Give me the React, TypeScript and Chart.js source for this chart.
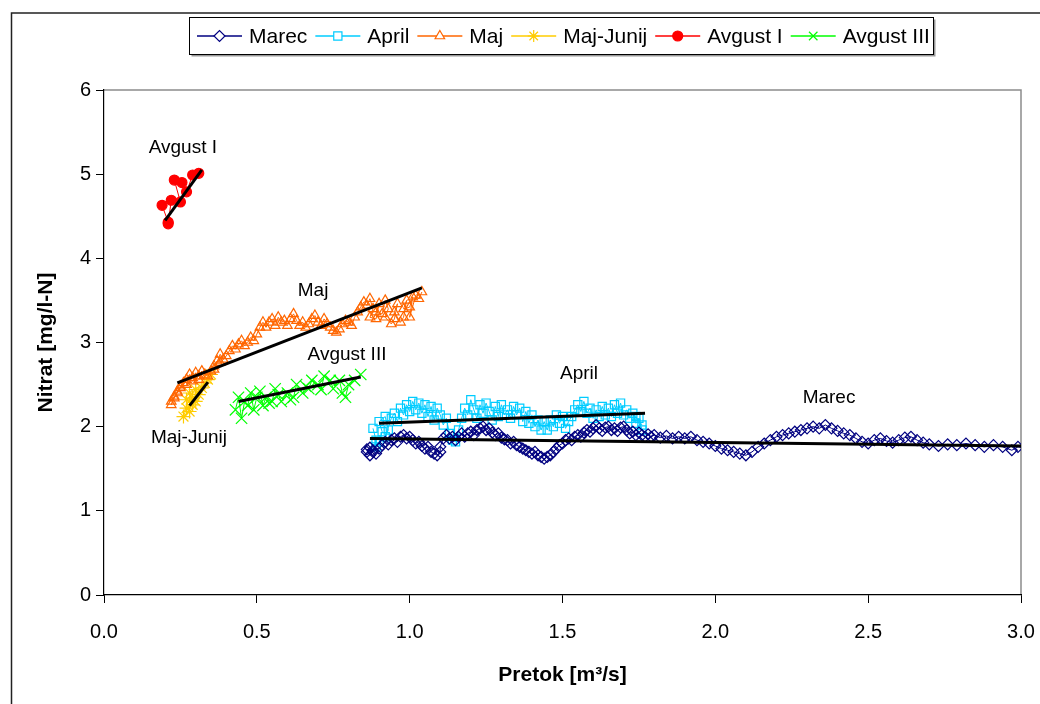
import React, { useEffect, useRef } from 'react';
import { Chart, registerables } from 'chart.js';
import { drawPoint } from 'chart.js/helpers';

Chart.register(...registerables);

const FONT = "'Liberation Sans', Arial, sans-serif";

// ---------------- DATA ----------------
const seriesNames = ['Marec', 'April', 'Maj', 'Maj-Junij', 'Avgust I', 'Avgust III'];

const marecX = [0.86, 0.87, 0.86, 0.88, 0.87, 0.89, 0.88, 0.90, 0.91, 0.92,
  0.93, 0.94, 0.95, 0.96, 0.97, 0.98, 0.99, 1.00, 1.01, 1.02,
  1.03, 1.04, 1.05, 1.06, 1.07, 1.08, 1.09, 1.10, 1.10, 1.11,
  1.12, 1.13, 1.14, 1.15, 1.16, 1.17, 1.18, 1.19, 1.20, 1.21,
  1.22, 1.23, 1.24, 1.25, 1.26, 1.27, 1.28, 1.29, 1.30, 1.31,
  1.32, 1.33, 1.34, 1.35, 1.36, 1.37, 1.38, 1.39, 1.40, 1.41,
  1.42, 1.43, 1.44, 1.45, 1.46, 1.47, 1.48, 1.49, 1.50, 1.51,
  1.52, 1.53, 1.54, 1.55, 1.56, 1.57, 1.58, 1.59, 1.60, 1.61,
  1.62, 1.63, 1.64, 1.65, 1.66, 1.67, 1.68, 1.69, 1.70, 1.71,
  1.72, 1.73, 1.74, 1.75, 1.76, 1.77, 1.78, 1.79, 1.80, 1.82,
  1.84, 1.86, 1.88, 1.90, 1.92, 1.94, 1.96, 1.98, 2.00, 2.02,
  2.04, 2.06, 2.08, 2.10, 2.12, 2.14, 2.16, 2.18, 2.20, 2.22,
  2.24, 2.26, 2.28, 2.30, 2.32, 2.34, 2.36, 2.38, 2.40, 2.42,
  2.44, 2.46, 2.48, 2.50, 2.52, 2.54, 2.56, 2.58, 2.60, 2.62,
  2.64, 2.66, 2.68, 2.70, 2.73, 2.76, 2.79, 2.82, 2.85, 2.88,
  2.91, 2.94, 2.97, 2.99, 3.02];
const marecY = [1.70, 1.66, 1.73, 1.70, 1.75, 1.68, 1.72, 1.74, 1.78, 1.82,
  1.79, 1.84, 1.86, 1.82, 1.88, 1.90, 1.86, 1.88, 1.84, 1.80,
  1.82, 1.77, 1.74, 1.76, 1.70, 1.68, 1.66, 1.70, 1.76, 1.86,
  1.90, 1.86, 1.88, 1.84, 1.88, 1.92, 1.88, 1.92, 1.94, 1.90,
  1.96, 1.98, 2.00, 1.96, 1.98, 1.93, 1.90, 1.92, 1.87, 1.85,
  1.84, 1.80, 1.82, 1.78, 1.76, 1.74, 1.72, 1.70, 1.68, 1.70,
  1.66, 1.64, 1.62, 1.64, 1.66, 1.70, 1.74, 1.78, 1.80, 1.84,
  1.86, 1.84, 1.88, 1.90, 1.88, 1.93, 1.96, 1.94, 1.98, 2.02,
  1.98, 1.95, 1.99, 2.00, 1.96, 1.98, 1.95, 1.99, 2.00, 1.96,
  1.92, 1.94, 1.90, 1.93, 1.90, 1.88, 1.91, 1.88, 1.90, 1.87,
  1.89, 1.86, 1.88, 1.86, 1.88, 1.84, 1.82, 1.80, 1.77, 1.74,
  1.72, 1.70, 1.68, 1.66, 1.70, 1.76, 1.80, 1.84, 1.88, 1.90,
  1.92, 1.94, 1.96, 1.98, 2.00, 1.98, 2.02, 1.98, 1.95, 1.92,
  1.90, 1.86, 1.82, 1.80, 1.84, 1.86, 1.83, 1.81, 1.84, 1.87,
  1.88, 1.84, 1.81, 1.79, 1.77, 1.79, 1.78, 1.80, 1.78, 1.76,
  1.78, 1.76, 1.72, 1.76, 1.74];

const aprilX = [0.88, 0.89, 0.89, 0.90, 0.91, 0.90, 0.92, 0.93, 0.92, 0.94,
  0.95, 0.96, 0.97, 0.98, 0.99, 1.00, 1.01, 1.02, 1.03, 1.04,
  1.05, 1.06, 1.07, 1.08, 1.09, 1.10, 1.11, 1.12, 1.13, 1.14,
  1.15, 1.16, 1.17, 1.18, 1.19, 1.20, 1.21, 1.22, 1.23, 1.24,
  1.25, 1.26, 1.27, 1.28, 1.29, 1.30, 1.31, 1.32, 1.33, 1.34,
  1.35, 1.36, 1.37, 1.38, 1.39, 1.40, 1.41, 1.42, 1.43, 1.44,
  1.45, 1.46, 1.47, 1.48, 1.49, 1.50, 1.51, 1.52, 1.53, 1.54,
  1.55, 1.56, 1.57, 1.58, 1.59, 1.60, 1.61, 1.62, 1.63, 1.64,
  1.65, 1.66, 1.67, 1.68, 1.69, 1.70, 1.71, 1.72, 1.73, 1.74,
  1.75, 1.76, 1.74, 1.76];
const aprilY = [1.98, 1.84, 1.76, 1.82, 1.94, 2.06, 2.12, 1.96, 1.88, 2.10,
  2.16, 2.06, 2.22, 2.14, 2.26, 2.18, 2.30, 2.20, 2.28, 2.16,
  2.26, 2.12, 2.24, 2.08, 2.22, 2.14, 2.02, 2.10, 1.92, 1.84,
  1.82, 1.96, 2.10, 2.22, 2.14, 2.32, 2.20, 2.10, 2.26, 2.16,
  2.28, 2.18, 2.08, 2.24, 2.12, 2.26, 2.14, 2.20, 2.10, 2.24,
  2.14, 2.22, 2.06, 2.18, 2.04, 2.14, 2.00, 2.08, 1.96, 2.06,
  1.96, 2.08, 2.00, 2.14, 2.04, 2.12, 1.98, 2.06, 2.12, 2.20,
  2.26, 2.18, 2.30, 2.16, 2.22, 2.10, 2.20, 2.12, 2.24, 2.14,
  2.22, 2.12, 2.26, 2.16, 2.28, 2.14, 2.20, 2.10, 2.16, 2.04,
  2.10, 1.96, 2.12, 2.02];

const majX = [0.22, 0.23, 0.22, 0.24, 0.23, 0.25, 0.24, 0.26, 0.25, 0.27,
  0.28, 0.27, 0.29, 0.30, 0.29, 0.31, 0.32, 0.31, 0.33, 0.34,
  0.35, 0.36, 0.37, 0.36, 0.38, 0.39, 0.38, 0.40, 0.41, 0.42,
  0.43, 0.44, 0.45, 0.46, 0.47, 0.48, 0.49, 0.50, 0.51, 0.52,
  0.53, 0.54, 0.55, 0.56, 0.57, 0.58, 0.59, 0.60, 0.61, 0.62,
  0.63, 0.64, 0.65, 0.66, 0.67, 0.68, 0.69, 0.70, 0.71, 0.72,
  0.73, 0.74, 0.75, 0.76, 0.77, 0.78, 0.79, 0.80, 0.81, 0.82,
  0.83, 0.84, 0.85, 0.86, 0.87, 0.88, 0.87, 0.89, 0.90, 0.89,
  0.91, 0.92, 0.93, 0.92, 0.94, 0.95, 0.96, 0.95, 0.97, 0.98,
  0.99, 0.98, 1.00, 1.01, 1.00, 1.02, 1.03, 1.04];
const majY = [2.30, 2.36, 2.26, 2.42, 2.34, 2.48, 2.40, 2.52, 2.46, 2.56,
  2.62, 2.50, 2.58, 2.64, 2.54, 2.60, 2.66, 2.56, 2.62, 2.60,
  2.66, 2.72, 2.78, 2.68, 2.86, 2.80, 2.76, 2.84, 2.90, 2.96,
  2.92, 2.98, 3.02, 2.96, 3.00, 3.06, 3.02, 3.10, 3.18, 3.24,
  3.18, 3.24, 3.28, 3.20, 3.30, 3.24, 3.26, 3.20, 3.28, 3.34,
  3.26, 3.20, 3.24, 3.18, 3.22, 3.28, 3.32, 3.24, 3.20, 3.28,
  3.22, 3.18, 3.14, 3.12, 3.16, 3.22, 3.26, 3.24, 3.20, 3.30,
  3.36, 3.42, 3.48, 3.44, 3.52, 3.40, 3.30, 3.28, 3.46, 3.36,
  3.34, 3.50, 3.40, 3.30, 3.22, 3.28, 3.46, 3.36, 3.24, 3.30,
  3.50, 3.40, 3.42, 3.54, 3.30, 3.56, 3.52, 3.60];

const majJunijX = [0.26, 0.27, 0.27, 0.28, 0.28, 0.29, 0.29, 0.30, 0.30, 0.31, 0.32, 0.33, 0.34, 0.35];
const majJunijY = [2.12, 2.22, 2.32, 2.18, 2.40, 2.26, 2.34, 2.30, 2.44, 2.38, 2.46, 2.52, 2.56, 2.62];

const avgust1X = [0.19, 0.21, 0.21, 0.22, 0.25, 0.23, 0.255, 0.27, 0.29, 0.31];
const avgust1Y = [4.63, 4.43, 4.41, 4.69, 4.67, 4.93, 4.90, 4.79, 4.99, 5.01];

const avgust3X = [0.43, 0.44, 0.45, 0.46, 0.47, 0.48, 0.49, 0.50, 0.51, 0.52,
  0.53, 0.54, 0.55, 0.56, 0.57, 0.58, 0.60, 0.61, 0.62, 0.63,
  0.65, 0.66, 0.67, 0.68, 0.70, 0.71, 0.72, 0.74, 0.75, 0.77,
  0.78, 0.79, 0.80, 0.82, 0.84];
const avgust3Y = [2.20, 2.35, 2.10, 2.30, 2.25, 2.40, 2.20, 2.35, 2.42, 2.25,
  2.35, 2.28, 2.30, 2.45, 2.38, 2.30, 2.40, 2.32, 2.35, 2.50,
  2.40, 2.48, 2.45, 2.55, 2.50, 2.44, 2.60, 2.55, 2.45, 2.55,
  2.40, 2.35, 2.50, 2.55, 2.62];

// linear trend lines (start, end)
const trendMarecX = [0.87, 3.0];
const trendMarecY = [1.86, 1.77];
const trendAprilX = [0.90, 1.77];
const trendAprilY = [2.04, 2.16];
const trendMajX = [0.24, 1.04];
const trendMajY = [2.52, 3.65];
const trendMajJunijX = [0.28, 0.34];
const trendMajJunijY = [2.25, 2.53];
const trendAvgust1X = [0.20, 0.32];
const trendAvgust1Y = [4.45, 5.05];
const trendAvgust3X = [0.44, 0.84];
const trendAvgust3Y = [2.30, 2.59];

// annotation labels (data coordinates)
const labelTexts = ['Avgust I', 'Maj', 'Avgust III', 'Maj-Junij', 'April', 'Marec'];
const labelX = [0.258, 0.684, 0.795, 0.278, 1.554, 2.372];
const labelY = [5.31, 3.61, 2.85, 1.87, 2.63, 2.34];

const xAxisTitle = 'Pretok [m³/s]';
const yAxisTitle = 'Nitrat [mg/l-N]';

// ---------------- STYLES ----------------
const styles = [
  { color: '#000080', pointStyle: 'rectRot', radius: 5.5, fill: 'rgba(0,0,0,0)' },
  { color: '#00CCFF', pointStyle: 'rect', radius: 5.8, fill: 'rgba(0,0,0,0)' },
  { color: '#FF6600', pointStyle: 'triangle', radius: 5.5, fill: 'rgba(0,0,0,0)' },
  { color: '#FFCC00', pointStyle: 'star', radius: 7, fill: 'rgba(0,0,0,0)' },
  { color: '#FF0000', pointStyle: 'circle', radius: 5, fill: '#FF0000' },
  { color: '#00FF00', pointStyle: 'crossRot', radius: 8, fill: 'rgba(0,0,0,0)' },
];

const toPts = (xs: number[], ys: number[]) => xs.map((x, i) => ({ x, y: ys[i] }));

const seriesData = [
  toPts(marecX, marecY),
  toPts(aprilX, aprilY),
  toPts(majX, majY),
  toPts(majJunijX, majJunijY),
  toPts(avgust1X, avgust1Y),
  toPts(avgust3X, avgust3Y),
];
const trendData = [
  toPts(trendMarecX, trendMarecY),
  toPts(trendAprilX, trendAprilY),
  toPts(trendMajX, trendMajY),
  toPts(trendMajJunijX, trendMajJunijY),
  toPts(trendAvgust1X, trendAvgust1Y),
  toPts(trendAvgust3X, trendAvgust3Y),
];

const framePlugin = {
  id: 'frame',
  beforeDraw(chart: any) {
    const ctx = chart.ctx;
    ctx.save();
    ctx.fillStyle = '#ffffff';
    ctx.fillRect(0, 0, chart.width, chart.height);
    ctx.strokeStyle = '#222';
    ctx.lineWidth = 1.5;
    ctx.strokeRect(11.5, 13, chart.width + 20, chart.height + 20);
    const a = chart.chartArea;
    ctx.strokeStyle = '#8c8c8c';
    ctx.lineWidth = 1.5;
    ctx.beginPath();
    ctx.moveTo(a.left, a.top);
    ctx.lineTo(a.right, a.top);
    ctx.lineTo(a.right, a.bottom);
    ctx.stroke();
    ctx.restore();
  },
  afterDatasetsDraw(chart: any) {
    const ctx = chart.ctx;
    const xs = chart.scales.x;
    const ys = chart.scales.y;
    ctx.save();
    ctx.fillStyle = '#000';
    ctx.font = `19px ${FONT}`;
    ctx.textAlign = 'center';
    ctx.textBaseline = 'middle';
    labelTexts.forEach((t, i) => {
      ctx.fillText(t, xs.getPixelForValue(labelX[i]), ys.getPixelForValue(labelY[i]));
    });
    ctx.restore();
  },
  afterDraw(chart: any) {
    const ctx = chart.ctx;
    ctx.save();
    // legend box
    const bx = 189.5, by = 17.5, bw = 744, bh = 37;
    ctx.fillStyle = '#fff';
    ctx.fillRect(bx, by, bw, bh);
    ctx.strokeStyle = '#999';
    ctx.lineWidth = 2;
    ctx.beginPath();
    ctx.moveTo(bx + 2, by + bh + 1);
    ctx.lineTo(bx + bw + 1, by + bh + 1);
    ctx.lineTo(bx + bw + 1, by + 2);
    ctx.stroke();
    ctx.strokeStyle = '#000';
    ctx.lineWidth = 1;
    ctx.strokeRect(bx, by, bw, bh);
    ctx.font = `21px ${FONT}`;
    ctx.textBaseline = 'middle';
    ctx.textAlign = 'left';
    let x = 197;
    const cy = by + bh / 2;
    seriesNames.forEach((name, i) => {
      const s = styles[i];
      ctx.strokeStyle = s.color;
      ctx.lineWidth = 1.5;
      ctx.beginPath();
      ctx.moveTo(x, cy);
      ctx.lineTo(x + 45, cy);
      ctx.stroke();
      ctx.fillStyle = s.fill === 'rgba(0,0,0,0)' ? '#fff' : s.fill;
      ctx.lineWidth = 1.2;
      drawPoint(ctx, { pointStyle: s.pointStyle, radius: Math.min(s.radius, 6), rotation: 0, borderWidth: 1.2 } as any, x + 22.5, cy);
      ctx.fillStyle = '#000';
      ctx.fillText(name, x + 52, cy + 1);
      x += 52 + ctx.measureText(name).width + 8;
    });
    ctx.restore();
  },
};

export default function App() {
  const ref = useRef<HTMLCanvasElement>(null);
  useEffect(() => {
    if (!ref.current) return;
    const datasets: any[] = [];
    trendData.forEach((d) => {
      datasets.push({
        label: 'trend',
        data: d,
        showLine: true,
        borderColor: '#000',
        borderWidth: 3,
        pointRadius: 0,
        order: -1,
      });
    });
    seriesData.forEach((d, i) => {
      const s = styles[i];
      datasets.push({
        label: seriesNames[i],
        data: d,
        showLine: true,
        borderColor: s.color,
        borderWidth: 1,
        pointStyle: s.pointStyle,
        pointRadius: s.radius,
        pointBorderColor: s.color,
        pointBackgroundColor: s.fill,
        pointBorderWidth: 1.2,
        order: i,
      });
    });
    const chart = new Chart(ref.current, {
      type: 'scatter',
      data: { datasets },
      options: {
        animation: false,
        responsive: false,
        maintainAspectRatio: false,
        events: [],
        layout: { padding: { left: 0, right: 19, top: 90, bottom: 0 } },
        plugins: { legend: { display: false }, tooltip: { enabled: false } },
        scales: {
          x: {
            type: 'linear',
            min: 0,
            max: 3,
            ticks: {
              stepSize: 0.5,
              color: '#000',
              font: { family: FONT, size: 20 },
              padding: 17,
              maxRotation: 0,
              callback: (v: any) => Number(v).toFixed(1),
            },
            grid: { drawOnChartArea: false, tickLength: 8, color: '#000', lineWidth: 1 },
            border: { color: '#000', width: 1.2 },
            title: {
              display: true,
              text: xAxisTitle,
              color: '#000',
              font: { family: FONT, size: 21, weight: 'bold' },
              padding: { top: 0, bottom: 16 },
            },
            afterFit: (s: any) => { s.height = 109; s.paddingLeft = 0; s.paddingRight = 0; },
          },
          y: {
            type: 'linear',
            min: 0,
            max: 6,
            ticks: {
              stepSize: 1,
              color: '#000',
              font: { family: FONT, size: 20 },
              padding: 5,
            },
            grid: { drawOnChartArea: false, tickLength: 8, color: '#000', lineWidth: 1 },
            border: { color: '#000', width: 1.2 },
            title: {
              display: true,
              text: yAxisTitle,
              color: '#000',
              font: { family: FONT, size: 21, weight: 'bold' },
              padding: { top: 34, bottom: 0 },
            },
            afterFit: (s: any) => { s.width = 104; s.paddingTop = 0; s.paddingBottom = 0; },
          },
        },
      },
      plugins: [framePlugin],
    } as any);
    return () => chart.destroy();
  }, []);
  return (
    <div style={{ position: 'fixed', left: 0, top: 0, width: 1040, height: 704 }}>
      <canvas ref={ref} width={1040} height={704} style={{ width: 1040, height: 704, display: 'block' }} />
    </div>
  );
}
